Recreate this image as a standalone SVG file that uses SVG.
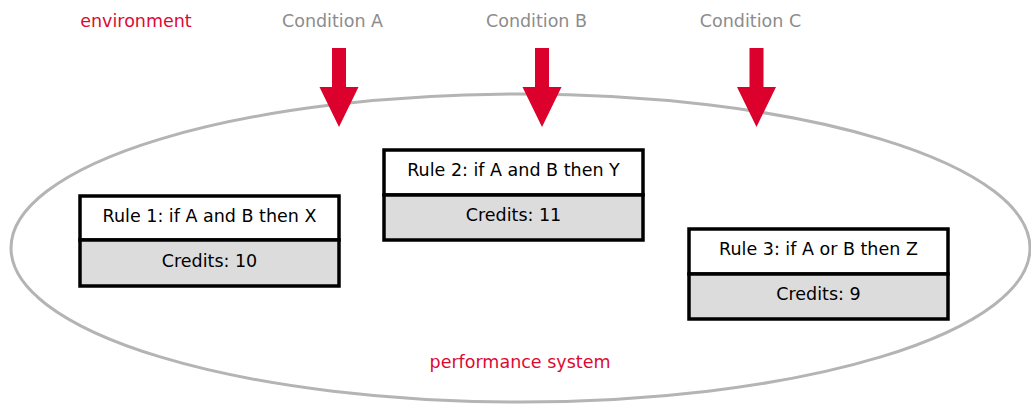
<svg xmlns="http://www.w3.org/2000/svg" width="1031" height="404" viewBox="0 0 1031 404">
  <style>
    .lbl { font-family: "DejaVu Sans", Verdana, sans-serif; font-size: 17.5px; text-anchor: middle; }
    .red { fill: #dc0a32; }
    .grey { fill: #8c8c8c; }
    .dark { fill: #000000; }
    .head { fill: #ffffff; stroke: #000000; stroke-width: 3.5; }
    .body { fill: #dcdcdc; stroke: #000000; stroke-width: 3.5; }
    .arrow { fill: #dc002d; }
  </style>

  <!-- performance system boundary -->
  <g id="system">
    <ellipse cx="520.5" cy="248" rx="509.5" ry="154" fill="none" stroke="#b4b4b4" stroke-width="3"/>
    <text class="lbl red" x="520" y="368">performance system</text>
  </g>

  <!-- environment labels -->
  <g id="environment">
    <text class="lbl red" x="136" y="27">environment</text>
  </g>
  <g id="condA">
    <text class="lbl grey" x="332.5" y="27">Condition A</text>
  </g>
  <g id="condB">
    <text class="lbl grey" x="536.5" y="27">Condition B</text>
  </g>
  <g id="condC">
    <text class="lbl grey" x="750.5" y="27">Condition C</text>
  </g>

  <!-- condition inputs into the system -->
  <g id="connectors">
    <path class="arrow" d="M332,48 H346 V87 H358.5 L339,127 L319.5,87 H332 Z"/>
    <path class="arrow" d="M535,48 H549 V87 H561.5 L542,127 L522.5,87 H535 Z"/>
    <path class="arrow" d="M749.5,48 H763.5 V87 H776 L756.5,127 L737,87 H749.5 Z"/>
  </g>

  <!-- classifier rules -->
  <g id="rule1">
    <rect class="head" x="80" y="196" width="259" height="44"/>
    <rect class="body" x="80" y="240" width="259" height="46"/>
    <text class="lbl dark" x="209.5" y="222">Rule 1: if A and B then X</text>
    <text class="lbl dark" x="209.5" y="267">Credits: 10</text>
  </g>
  <g id="rule2">
    <rect class="head" x="384" y="150" width="259" height="45"/>
    <rect class="body" x="384" y="195" width="259" height="45"/>
    <text class="lbl dark" x="513.5" y="176">Rule 2: if A and B then Y</text>
    <text class="lbl dark" x="513.5" y="221">Credits: 11</text>
  </g>
  <g id="rule3">
    <rect class="head" x="689" y="229" width="259" height="45"/>
    <rect class="body" x="689" y="274" width="259" height="45"/>
    <text class="lbl dark" x="818.5" y="255">Rule 3: if A or B then Z</text>
    <text class="lbl dark" x="818.5" y="300">Credits: 9</text>
  </g>
</svg>
